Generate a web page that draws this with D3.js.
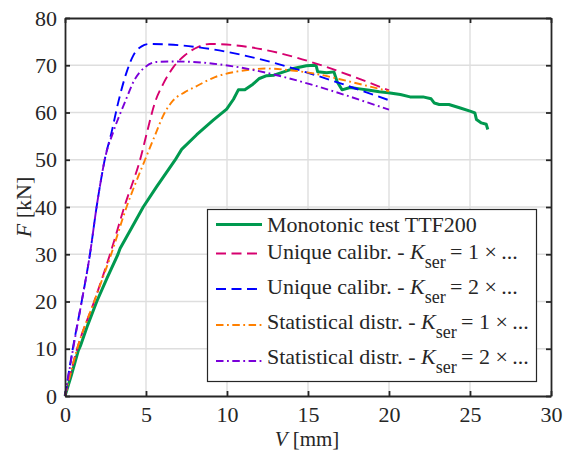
<!DOCTYPE html>
<html>
<head>
<meta charset="utf-8">
<script src="https://cdn.jsdelivr.net/npm/d3@7"></script>
<style>
  html, body { margin: 0; padding: 0; background: #fff; }
  svg { display: block; }
  text { font-family: "Liberation Serif", "Times New Roman", serif; fill: #262626; }
</style>
</head>
<body>
<svg id="chart" width="565" height="452"></svg>
<script>
// Load-slip curves: shear force F [kN] against slip V [mm]
const xTicks = [0, 5, 10, 15, 20, 25, 30];
const yTicks = [0, 10, 20, 30, 40, 50, 60, 70, 80];

// Monotonic test TTF200 (measured)
const testV = [0, 0.4, 0.82, 0.95, 1.4, 1.96, 2.6, 3.27, 3.4, 4.1, 4.83, 5.66, 6.79, 7.2, 8.13, 9.15, 9.98,
  10.4, 10.7, 11.1, 11.6, 12.0, 12.45, 12.9, 13.5, 14.1, 14.9, 15.4, 15.5, 15.6, 16.15, 16.6, 16.8, 17.1,
  17.6, 18.2, 18.8, 19.4, 19.96, 20.7, 21.3, 22.1, 22.6, 22.8, 23.1, 23.7, 24.4, 25.0, 25.3, 25.4, 25.7, 26.0, 26.1];
const testF = [0, 4.5, 9.6, 10.6, 15.0, 20.0, 25.0, 30.0, 31.2, 35.5, 40.0, 44.3, 49.9, 52.2, 55.3, 58.4, 60.7,
  62.8, 64.8, 64.8, 66.0, 67.2, 67.8, 67.9, 68.6, 69.3, 69.9, 70.0, 69.9, 68.6, 68.4, 68.6, 66.5, 64.8,
  65.3, 65.0, 64.7, 64.4, 64.2, 63.8, 63.3, 63.3, 62.9, 62.0, 61.7, 61.7, 60.95, 60.3, 59.9, 58.5, 57.8, 57.5, 56.4];

// Unique calibration, Kser = 1x
const uni1V = [0, 0.75, 1.8, 2.78, 3.66, 4.73, 5.04, 5.56, 6.07, 6.69, 7.4, 8.23, 8.95, 20];
const uni1F = [0, 10, 20, 30, 40, 51.2, 55.5, 62.2, 66.1, 69.6, 72.1, 73.9, 74.5, 64.7];

// Unique calibration, Kser = 2x
const uni2V = [0, 0.48, 1.03, 1.54, 1.95, 2.2, 2.45, 2.88, 3.29, 3.81, 4.22, 4.73, 5.2, 20];
const uni2F = [0, 10, 20, 30, 40, 45.3, 50, 55.9, 62.2, 68.6, 72.1, 74.0, 74.5, 62.6];

// Statistical distribution, Kser = 1x
const sta1V = [0, 0.75, 1.8, 2.85, 3.8, 4.94, 5.56, 6.07, 6.69, 7.4, 8.02, 9.26, 10.5, 11.5, 12.4, 14.0, 15.6, 17.5, 20];
const sta1F = [0, 10, 20, 30, 40, 50, 55.2, 59.4, 62.6, 64.3, 65.4, 67.5, 68.6, 69.1, 69.3, 68.9, 68.1, 66.6, 64.5];

// Statistical distribution, Kser = 2x
const sta2V = [0, 0.5, 1.03, 1.54, 1.95, 2.2, 2.45, 2.98, 3.7, 4.32, 4.94, 5.66, 6.79, 20];
const sta2F = [0, 10, 20, 30, 40, 45.3, 50, 55.9, 62.2, 67.1, 69.6, 70.7, 70.8, 60.6];

const seriesNames = [
  "Monotonic test TTF200",
  "Unique calibr. - ",
  "Unique calibr. - ",
  "Statistical distr. - ",
  "Statistical distr. - "
];
const seriesFactors = ["", "1", "2", "1", "2"];
const seriesColors = ["#00994f", "#d6006f", "#0000ff", "#ff8000", "#7a00d9"];

const svg = d3.select("#chart");
const x = d3.scaleLinear().domain([0, 30]).range([65, 551]);
const y = d3.scaleLinear().domain([0, 80]).range([396, 18]);
const fontSize = 22;

// grid
const grid = svg.append("g");
grid.selectAll("line.gx").data(xTicks.slice(1, -1)).join("line")
  .attr("x1", d => x(d)).attr("x2", d => x(d)).attr("y1", y(0)).attr("y2", y(80))
  .attr("stroke", "#dedede").attr("stroke-width", 1.4);
grid.selectAll("line.gy").data(yTicks.slice(1, -1)).join("line")
  .attr("y1", d => y(d)).attr("y2", d => y(d)).attr("x1", x(0)).attr("x2", x(30))
  .attr("stroke", "#dedede").attr("stroke-width", 1.4);

// curves
const zip = (vs, fs) => vs.map((v, i) => [v, fs[i]]);
const smooth = d3.line().x(d => x(d[0])).y(d => y(d[1])).curve(d3.curveMonotoneX);
const raw = d3.line().x(d => x(d[0])).y(d => y(d[1]));

const curves = [
  { data: zip(testV, testF), gen: raw, dash: null, w: 3 },
  { data: zip(uni1V, uni1F), gen: smooth, dash: "10,5.5", w: 1.9 },
  { data: zip(uni2V, uni2F), gen: smooth, dash: "10,5.5", w: 1.9 },
  { data: zip(sta1V, sta1F), gen: smooth, dash: "7.5,3.5,1.8,3.5", w: 1.9 },
  { data: zip(sta2V, sta2F), gen: smooth, dash: "7.5,3.5,1.8,3.5", w: 1.9 }
];
const plot = svg.append("g");
curves.forEach((c, i) => {
  plot.append("path").attr("d", c.gen(c.data)).attr("fill", "none")
    .attr("stroke", seriesColors[i]).attr("stroke-width", c.w)
    .attr("stroke-dasharray", c.dash).attr("stroke-linejoin", "round");
});

// axes with inward ticks on all four sides
const tickLen = 5;
const axisColor = "#262626";
const axBottom = svg.append("g").attr("transform", `translate(0,${y(0)})`)
  .call(d3.axisBottom(x).tickValues(xTicks).tickSizeInner(-tickLen).tickSizeOuter(0).tickPadding(10.5));
const axTop = svg.append("g").attr("transform", `translate(0,${y(80)})`)
  .call(d3.axisTop(x).tickValues(xTicks).tickSizeInner(-tickLen).tickSizeOuter(0).tickFormat(""));
const axLeft = svg.append("g").attr("transform", `translate(${x(0)},0)`)
  .call(d3.axisLeft(y).tickValues(yTicks).tickSizeInner(-tickLen).tickSizeOuter(0).tickPadding(8));
const axRight = svg.append("g").attr("transform", `translate(${x(30)},0)`)
  .call(d3.axisRight(y).tickValues(yTicks).tickSizeInner(-tickLen).tickSizeOuter(0).tickFormat(""));
[axBottom, axTop, axLeft, axRight].forEach(g => {
  g.select(".domain").attr("stroke", axisColor).attr("stroke-width", 1.8);
  g.selectAll(".tick line").attr("stroke", axisColor).attr("stroke-width", 1.8);
  g.selectAll(".tick text").attr("font-size", fontSize).attr("fill", axisColor);
});

// axis titles
svg.append("text").attr("x", 307).attr("y", 446).attr("text-anchor", "middle").attr("font-size", 21)
  .call(t => {
    t.append("tspan").attr("font-style", "italic").text("V");
    t.append("tspan").text(" [mm]");
  });
svg.append("text").attr("transform", "translate(31,207) rotate(-90)").attr("text-anchor", "middle")
  .attr("font-size", fontSize)
  .call(t => {
    t.append("tspan").attr("font-style", "italic").text("F");
    t.append("tspan").text(" [kN]");
  });

// legend
const lg = svg.append("g");
lg.append("rect").attr("x", 207.5).attr("y", 209.5).attr("width", 329).attr("height", 172)
  .attr("fill", "#fff").attr("stroke", axisColor).attr("stroke-width", 1.2);
const rowLine = [224.5, 253.5, 289, 325, 361];
const rowBase = [231.5, 258.5, 293.5, 328.5, 363.5];
seriesNames.forEach((name, i) => {
  lg.append("line").attr("x1", 216).attr("x2", 262).attr("y1", rowLine[i]).attr("y2", rowLine[i])
    .attr("stroke", seriesColors[i]).attr("stroke-width", curves[i].w)
    .attr("stroke-dasharray", curves[i].dash);
  const t = lg.append("text").attr("x", 267).attr("y", rowBase[i]).attr("font-size", fontSize)
    .style("white-space", "pre");
  t.append("tspan").text(name);
  if (seriesFactors[i]) {
    t.append("tspan").attr("font-style", "italic").text("K");
    t.append("tspan").attr("font-size", 18).attr("dy", 9).text("ser");
    t.append("tspan").attr("dy", -9).text("\u2009= " + seriesFactors[i] + " \u00d7\u2009...");
  }
});
</script>
</body>
</html>
